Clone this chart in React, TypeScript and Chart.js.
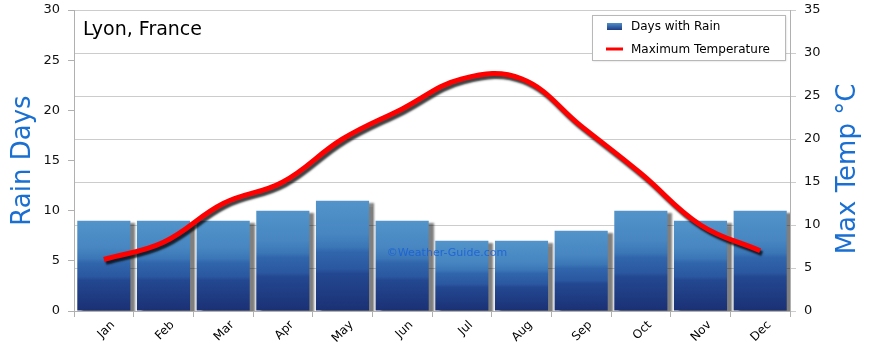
import React, { useEffect, useRef } from "react";
import { Chart, registerables } from "chart.js";

Chart.register(...registerables);

const months = ["Jan", "Feb", "Mar", "Apr", "May", "Jun", "Jul", "Aug", "Sep", "Oct", "Nov", "Dec"];
const rainDays = [9, 9, 9, 10, 11, 9, 7, 7, 8, 10, 9, 10];
const maxTemp = [6, 8, 12.5, 15, 20, 23.5, 27, 27, 21.5, 16, 10, 7];
const rainTicks = { min: 0, max: 30, step: 5 };
const tempTicks = { min: 0, max: 35, step: 5 };

const FONT = "'DejaVu Sans', sans-serif";
const AXIS_BLUE = "#1a6fd3";

const shadowPlugin = {
  id: "shadows",
  beforeDatasetDraw(chart: any, args: any) {
    const ctx = chart.ctx;
    ctx.save();
    if (args.index === 0) {
      ctx.shadowColor = "rgba(0,0,0,0.5)";
      ctx.shadowOffsetX = 5;
      ctx.shadowOffsetY = 2;
      ctx.shadowBlur = 2;
    } else {
      ctx.shadowColor = "rgba(0,0,0,0.75)";
      ctx.shadowOffsetX = 2;
      ctx.shadowOffsetY = 3;
      ctx.shadowBlur = 2;
    }
  },
  afterDatasetDraw(chart: any) {
    chart.ctx.restore();
  },
};

const decorPlugin = {
  id: "decor",
  afterDraw(chart: any) {
    const ctx = chart.ctx;
    const area = chart.chartArea;
    ctx.save();
    // title
    ctx.fillStyle = "#000";
    ctx.font = `19px ${FONT}`;
    ctx.textBaseline = "middle";
    ctx.textAlign = "left";
    ctx.fillText("Lyon, France", area.left + 9, area.top + 20);
    // right axis title (reads bottom to top)
    ctx.save();
    ctx.translate(848, 169);
    ctx.rotate(-Math.PI / 2);
    ctx.fillStyle = AXIS_BLUE;
    ctx.font = `26px ${FONT}`;
    ctx.textAlign = "center";
    ctx.fillText("Max Temp \u00B0C", 0, 0);
    ctx.restore();
    // watermark
    ctx.fillStyle = "rgba(25,95,215,0.85)";
    ctx.font = `11px ${FONT}`;
    ctx.textAlign = "center";
    ctx.fillText("\u00A9Weather-Guide.com", 447, 253);
    // legend
    const lx = 592, ly = 15, lw = 193, lh = 45;
    ctx.shadowColor = "rgba(0,0,0,0.2)";
    ctx.shadowOffsetX = 1;
    ctx.shadowOffsetY = 1;
    ctx.shadowBlur = 2;
    ctx.fillStyle = "#fff";
    ctx.fillRect(lx, ly, lw, lh);
    ctx.shadowColor = "transparent";
    ctx.strokeStyle = "#b8b8b8";
    ctx.lineWidth = 1;
    ctx.strokeRect(lx + 0.5, ly + 0.5, lw, lh);
    const g = ctx.createLinearGradient(0, 23, 0, 30);
    g.addColorStop(0, "#4f8fc8");
    g.addColorStop(1, "#1d3b84");
    ctx.fillStyle = g;
    ctx.fillRect(607, 23, 15, 7);
    ctx.strokeStyle = "#ff0000";
    ctx.lineWidth = 3;
    ctx.beginPath();
    ctx.moveTo(606, 49);
    ctx.lineTo(623, 49);
    ctx.stroke();
    ctx.fillStyle = "#000";
    ctx.font = `12px ${FONT}`;
    ctx.textAlign = "left";
    ctx.fillText("Days with Rain", 631, 27);
    ctx.fillText("Maximum Temperature", 631, 50);
    ctx.restore();
  },
};

function barGradient(context: any) {
  const chart = context.chart;
  const area = chart.chartArea;
  const yScale = chart.scales && chart.scales.y;
  if (!area || !yScale || context.raw === undefined) return "#2d5ea8";
  const top = yScale.getPixelForValue(context.raw);
  const base = yScale.getPixelForValue(0);
  if (!isFinite(top) || !isFinite(base) || base - top < 1) return "#2d5ea8";
  const g = chart.ctx.createLinearGradient(0, top, 0, base);
  g.addColorStop(0, "#5294ca");
  g.addColorStop(0.3, "#4786c1");
  g.addColorStop(0.42, "#3b76b7");
  g.addColorStop(0.47, "#3065ac");
  g.addColorStop(0.62, "#2a57a0");
  g.addColorStop(0.66, "#234891");
  g.addColorStop(1, "#1b3074");
  return g;
}

const fitY = (w: number) => (s: any) => {
  s.width = w;
  s.paddingTop = 0;
  s.paddingBottom = 0;
};

export default function App() {
  const ref = useRef<HTMLCanvasElement | null>(null);
  useEffect(() => {
    document.body.style.margin = "0";
    if (!ref.current) return;
    const chart = new Chart(ref.current, {
      type: "bar",
      data: {
        labels: months,
        datasets: [
          {
            type: "bar",
            label: "Days with Rain",
            data: rainDays,
            yAxisID: "y",
            backgroundColor: barGradient as any,
            borderWidth: 0,
            barPercentage: 0.89,
            categoryPercentage: 1,
            order: 2,
          },
          {
            type: "line",
            label: "Maximum Temperature",
            data: maxTemp,
            yAxisID: "y1",
            borderColor: "#ff0000",
            borderWidth: 5,
            pointRadius: 0,
            tension: 0.4,
            fill: false,
            order: 1,
          } as any,
        ],
      },
      options: {
        animation: false,
        responsive: true,
        maintainAspectRatio: false,
        layout: { padding: { top: 10, left: 0, right: 0, bottom: 0 } },
        plugins: { legend: { display: false }, tooltip: { enabled: false } },
        scales: {
          x: {
            offset: true,
            grid: { offset: true, drawOnChartArea: false, drawTicks: true, tickLength: 6, color: "#b0b0b0" },
            border: { color: "#b0b0b0" },
            ticks: { maxRotation: 45, minRotation: 45, labelOffset: 9, color: "#000", font: { family: FONT, size: 12 }, padding: 1 },
            afterFit: (s: any) => { s.height = 41; s.paddingLeft = 0; s.paddingRight = 0; },
          },
          y: {
            position: "left",
            min: rainTicks.min,
            max: rainTicks.max,
            ticks: { stepSize: rainTicks.step, color: "#111", font: { family: FONT, size: 13 }, padding: 8 },
            grid: { drawOnChartArea: false, drawTicks: true, tickLength: 6, color: "#b0b0b0" },
            border: { color: "#b0b0b0" },
            title: { display: true, text: "Rain Days", color: AXIS_BLUE, font: { family: FONT, size: 26 }, padding: { top: 8, bottom: 0 } },
            afterFit: fitY(74),
          },
          y1: {
            position: "right",
            min: tempTicks.min,
            max: tempTicks.max,
            ticks: { stepSize: tempTicks.step, color: "#111", font: { family: FONT, size: 13 }, padding: 8 },
            grid: { drawOnChartArea: true, drawTicks: true, tickLength: 6, color: "#cccccc" },
            border: { color: "#b0b0b0" },
            title: { display: false },
            afterFit: fitY(80),
          },
        },
      },
      plugins: [shadowPlugin, decorPlugin],
    });
    return () => chart.destroy();
  }, []);
  return (
    <div style={{ width: 870, height: 352, position: "relative" }}>
      <canvas ref={ref} />
    </div>
  );
}
